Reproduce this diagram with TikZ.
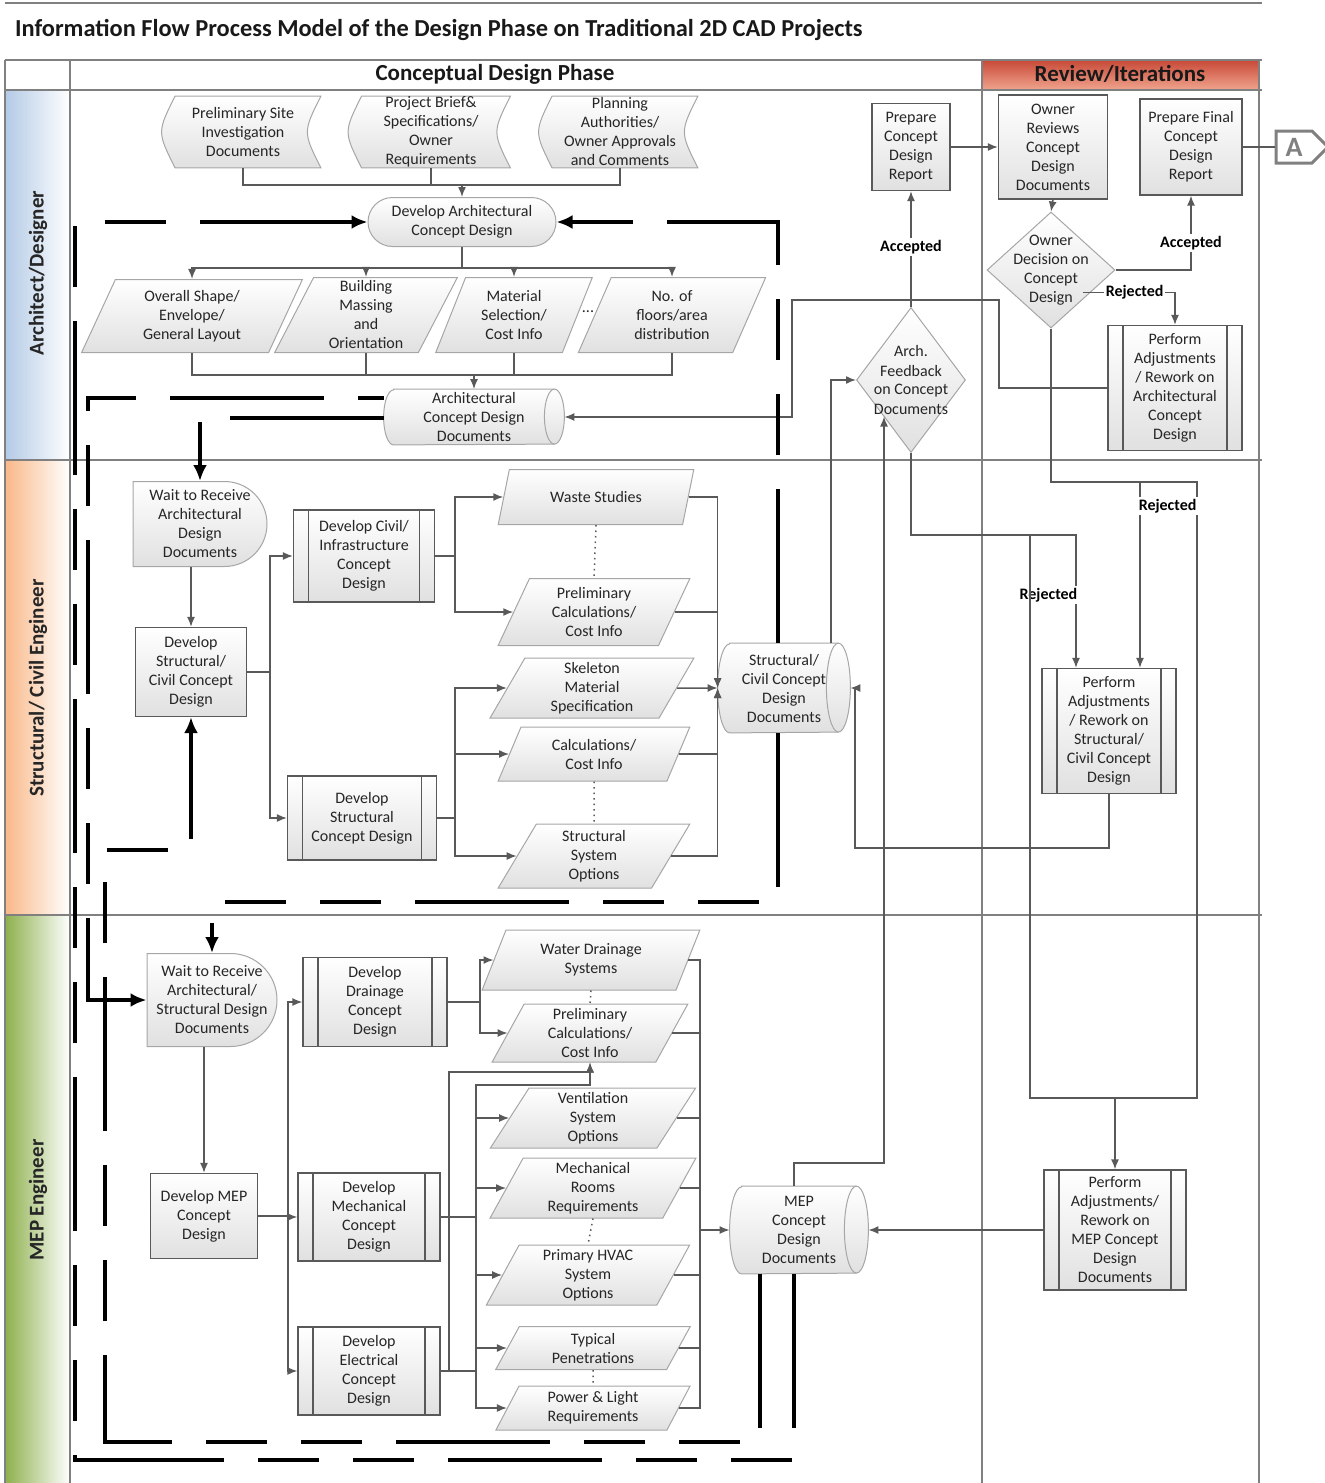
\documentclass[tikz,border=0pt]{standalone}
\usepackage{fontspec}
\setmainfont{Carlito}
\usetikzlibrary{shapes.geometric,shapes.misc,shapes.symbols,arrows.meta}

\pgfdeclarelayer{background}
\pgfsetlayers{background,main}

\definecolor{lineclr}{HTML}{595959}
\definecolor{edgeclr}{HTML}{A6A6A6}
\definecolor{laneclr}{HTML}{808080}
\definecolor{archblue}{HTML}{B4CBE6}
\definecolor{structorange}{HTML}{F9B98A}
\definecolor{mepgreen}{HTML}{8FB150}
\definecolor{revred}{HTML}{C94C3A}
\definecolor{revlight}{HTML}{F0A48E}

\tikzset{
  every node/.style={font=\fontsize{8}{9.5}\selectfont, text=black!85, align=center},
  softfill/.style={top color=white, bottom color=black!12},
  ctext/.style={label={center:{#1}}},
  proc/.style={rectangle, draw=lineclr, line width=0.6pt, softfill, inner sep=1pt},
  subproc/.style={proc, path picture={
      \draw[lineclr, line width=0.6pt]
        ([xshift=7.5pt]path picture bounding box.north west) -- ([xshift=7.5pt]path picture bounding box.south west)
        ([xshift=-7.5pt]path picture bounding box.north east) -- ([xshift=-7.5pt]path picture bounding box.south east);}},
  datain/.style={trapezium, trapezium left angle=68, trapezium right angle=112,
      trapezium stretches=true, draw=edgeclr, line width=0.5pt, softfill, inner sep=1pt},
  decide/.style={diamond, draw=edgeclr, line width=0.5pt, softfill, inner sep=0pt},
  waitbox/.style={rounded rectangle, rounded rectangle left arc=none, draw=edgeclr, line width=0.5pt, softfill, inner sep=0pt},
  termbox/.style={rounded rectangle, draw=edgeclr, line width=0.5pt, softfill, inner sep=0pt},
  docbox/.style={rectangle, inner sep=0pt},
  docedge/.style={draw=edgeclr, line width=0.5pt, softfill},
  docline/.style={draw=edgeclr, line width=0.5pt},
  offpage/.style={signal, signal to=east, draw=black!50, line width=1.5pt, text=black!50,
      font=\fontsize{14}{16}\selectfont\bfseries, minimum width=26pt, minimum height=16pt, inner sep=1pt},
  link/.style={draw=lineclr, line width=0.75pt},
  flow/.style={link, -{Latex[length=5pt,width=4pt]}},
  dotline/.style={draw=lineclr, line width=0.75pt, dotted},
  fbloop/.style={draw=black, line width=2pt,
      dash pattern=on 77pt off 17pt on 30.5pt off 17pt on 30.5pt off 17pt,
      -{Latex[length=8pt,width=7pt]}},
  lbl/.style={font=\fontsize{8}{9.5}\selectfont\bfseries, text=black, fill=white, inner sep=1pt},
  laneline/.style={draw=laneclr, line width=0.75pt},
  lanelbl/.style={font=\fontsize{10.5}{12}\selectfont\bfseries, text=black!85, rotate=90},
  hdr/.style={font=\fontsize{11.5}{13}\selectfont\bfseries, text=black!90},
}

% curved-side document outline, drawn behind the node text
\newcommand{\tapedoc}[1]{%
  \begin{pgfonlayer}{background}
    \shadedraw[docedge] ([xshift=5pt]#1.north west) .. controls ([xshift=-4pt]#1.west) .. ([xshift=5pt]#1.south west)
      -- (#1.south east) .. controls ([xshift=-9pt]#1.east) .. (#1.north east) -- cycle;
  \end{pgfonlayer}}

% lying data store (cylinder), #2 = end radius, #3 = half height
\newcommand{\cylbody}[3]{%
  \begin{pgfonlayer}{background}
    \shadedraw[docedge] ([xshift=#2]#1.north west) -- ([xshift=-#2]#1.north east)
      arc[start angle=90, end angle=-90, x radius=#2, y radius=#3]
      -- ([xshift=#2]#1.south west)
      arc[start angle=270, end angle=90, x radius=#2, y radius=#3] -- cycle;
    \draw[docline] ([xshift=-#2]#1.north east) arc[start angle=90, end angle=270, x radius=#2, y radius=#3];
  \end{pgfonlayer}}

\begin{document}
\begin{tikzpicture}[x=0.5pt, y=-0.5pt]
    \useasboundingbox (0,0) rectangle (1324,1483);

    % swimlanes
    \fill[left color=archblue, right color=white] (6,90) rectangle (70,460);
    \fill[left color=structorange, right color=white] (6,460) rectangle (70,915);
    \fill[left color=mepgreen, right color=white] (6,915) rectangle (70,1483);
    \shade[top color=revred, bottom color=revlight] (983,61) rectangle (1258,90);
    \draw[laneline] (5,3) -- (1262,3);
    \foreach \y in {60,90,460,915}
        \draw[laneline] (5,\y) -- (1262,\y);
    \foreach \x in {5,70,982,1259}
        \draw[laneline] (\x,60) -- (\x,1483);

    \node[hdr, anchor=west, font=\fontsize{12.2}{14}\selectfont\bfseries] (title) at (8,30) {Information Flow Process Model of the Design Phase on Traditional 2D CAD Projects};
    \node[hdr] (phase) at (495,74) {Conceptual Design Phase};
    \node[hdr] (review) at (1120,74) {Review/Iterations};
    \node[lanelbl] (lanearch) at (38,273) {Architect/Designer};
    \node[lanelbl] (lanestruct) at (38,688) {Structural/ Civil Engineer};
    \node[lanelbl] (lanemep) at (38,1200) {MEP Engineer};

    % architect / designer
    \node[docbox, minimum width=77.5pt, minimum height=35.5pt] (sitedoc) at (243,132) {Preliminary Site\\Investigation\\Documents};
    \node[docbox, minimum width=79pt, minimum height=35.5pt] (briefdoc) at (431,132) {Project Brief\&\\Specifications/\\Owner\\Requirements};
    \node[docbox, minimum width=77.5pt, minimum height=35.5pt] (plandoc) at (620,132) {Planning\\Authorities/\\Owner Approvals\\and Comments};
    \tapedoc{sitedoc}
    \tapedoc{briefdoc}
    \tapedoc{plandoc}
    \node[termbox, minimum width=94pt, minimum height=24.5pt, ctext={Develop Architectural\\Concept Design}] (devarch) at (462,222) {};
    \node[datain, minimum width=110.5pt, minimum height=36.5pt] (shape1) at (192,316) {Overall Shape/\\Envelope/\\General Layout};
    \node[datain, minimum width=91.5pt, minimum height=37.5pt] (massing) at (366,315) {Building\\Massing\\and\\Orientation};
    \node[datain, minimum width=78.5pt, minimum height=37.5pt] (material) at (514,315) {Material\\Selection/\\Cost Info};
    \node (moreA) at (588,312) {...};
    \node[datain, minimum width=94pt, minimum height=37.5pt] (floors) at (672,315) {No. of\\floors/area\\distribution};
    \node[docbox, minimum width=90pt, minimum height=27.5pt, ctext={Architectural\\Concept Design\\Documents}] (archdocs) at (474,417) {};
    \cylbody{archdocs}{5pt}{13.75pt}
    \node[proc, minimum width=39pt, minimum height=43.5pt] (prepcdr) at (911,147) {Prepare\\Concept\\Design\\Report};
    \node[decide, minimum width=54.5pt, minimum height=72.5pt, ctext={Arch.\\Feedback\\on Concept\\Documents}] (archfb) at (911,380) {};
    \node[proc, minimum width=54.5pt, minimum height=52pt] (ownrev) at (1053,147) {Owner\\Reviews\\Concept\\Design\\Documents};
    \node[decide, minimum width=64pt, minimum height=58pt, ctext={Owner\\Decision on\\Concept\\Design}] (owndec) at (1051,270) {};
    \node[proc, minimum width=51pt, minimum height=48pt] (prepfin) at (1191,147) {Prepare Final\\Concept\\Design\\Report};
    \node[subproc, minimum width=67pt, minimum height=62.5pt] (adjarch) at (1175,388) {Perform\\Adjustments\\/ Rework on\\Architectural\\Concept\\Design};
    \node[offpage] (offA) at (1294,147) {A};

    % structural / civil engineer
    \node[waitbox, minimum width=67pt, minimum height=42.5pt, ctext={Wait to Receive\\Architectural\\Design\\Documents}] (waitarch) at (200,524) {};
    \node[proc, minimum width=55.5pt, minimum height=44.5pt] (devsc) at (191,672) {Develop\\Structural/\\Civil Concept\\Design};
    \node[subproc, minimum width=70.5pt, minimum height=46pt] (devcivil) at (364,556) {Develop Civil/\\Infrastructure\\Concept\\Design};
    \node[subproc, minimum width=74.5pt, minimum height=42pt] (devstruct) at (362,818) {Develop\\Structural\\Concept Design};
    \node[datain, minimum width=98pt, minimum height=27.5pt] (waste) at (596,497) {Waste Studies};
    \node[datain, minimum width=96pt, minimum height=33.5pt] (prelimA) at (594,612) {Preliminary\\Calculations/\\Cost Info};
    \node[datain, minimum width=102pt, minimum height=30pt] (skeleton) at (592,688) {Skeleton\\Material\\Specification};
    \node[datain, minimum width=96pt, minimum height=27pt] (calc) at (594,754) {Calculations/\\Cost Info};
    \node[datain, minimum width=96pt, minimum height=32pt] (sysopt) at (594,856) {Structural\\System\\Options};
    \node[docbox, minimum width=66pt, minimum height=44.5pt, ctext={Structural/\\Civil Concept\\Design\\Documents}] (scdocs) at (784,688) {};
    \cylbody{scdocs}{6pt}{22.25pt}
    \node[subproc, minimum width=67pt, minimum height=62.5pt] (adjstruct) at (1109,731) {Perform\\Adjustments\\/ Rework on\\Structural/\\Civil Concept\\Design};

    % MEP engineer
    \node[waitbox, minimum width=65pt, minimum height=46.5pt, ctext={Wait to Receive\\Architectural/\\Structural Design\\Documents}] (waitmep) at (212,1000) {};
    \node[proc, minimum width=53.5pt, minimum height=42.5pt] (devmep) at (204,1216) {Develop MEP\\Concept\\Design};
    \node[subproc, minimum width=72pt, minimum height=44.5pt] (devdrain) at (375,1002) {Develop\\Drainage\\Concept\\Design};
    \node[subproc, minimum width=71pt, minimum height=44pt] (devmech) at (369,1217) {Develop\\Mechanical\\Concept\\Design};
    \node[subproc, minimum width=71pt, minimum height=44pt] (develec) at (369,1371) {Develop\\Electrical\\Concept\\Design};
    \node[datain, minimum width=109pt, minimum height=30pt] (water) at (591,960) {Water Drainage\\Systems};
    \node[datain, minimum width=98pt, minimum height=29pt] (prelimB) at (590,1033) {Preliminary\\Calculations/\\Cost Info};
    \node[datain, minimum width=103pt, minimum height=30pt] (vent) at (593,1118) {Ventilation\\System\\Options};
    \node[datain, minimum width=103pt, minimum height=30pt] (mechroom) at (593,1188) {Mechanical\\Rooms\\Requirements};
    \node[datain, minimum width=102pt, minimum height=30pt] (hvac) at (588,1275) {Primary HVAC\\System\\Options};
    \node[datain, minimum width=97.5pt, minimum height=21.5pt] (penet) at (593,1348) {Typical\\Penetrations};
    \node[datain, minimum width=97.5pt, minimum height=22pt] (power) at (593,1408) {Power \& Light\\Requirements};
    \node[docbox, minimum width=69pt, minimum height=43.5pt, ctext={MEP\\Concept\\Design\\Documents}] (mepdocs) at (799,1230) {};
    \cylbody{mepdocs}{6pt}{21.75pt}
    \node[subproc, minimum width=71pt, minimum height=60pt] (adjmep) at (1115,1230) {Perform\\Adjustments/\\Rework on\\MEP Concept\\Design\\Documents};

    % bend points
    \coordinate (topbus) at (462,185);
    \coordinate (fanA) at (462,268);
    \coordinate (fanB) at (474,375);
    \coordinate (rwA) at (999,300);
    \coordinate (rwB) at (792,300);
    \coordinate (rjA) at (1197,482);
    \coordinate (rjS) at (1140,482);
    \coordinate (rjM) at (1115,1098);
    \coordinate (fbrej) at (1076,535);
    \coordinate (fbmep) at (1030,535);
    \coordinate (rsA) at (855,848);
    \coordinate (mepup) at (884,1163);
    \coordinate (scbus) at (270,672);
    \coordinate (cvbus) at (455,556);
    \coordinate (stbus) at (455,818);
    \coordinate (mpbus) at (288,1216);
    \coordinate (drbus) at (480,1002);
    \coordinate (mcbus) at (476,1217);
    \coordinate (mctop) at (476,1085);
    \coordinate (eltop) at (449,1072);
    \coordinate (mpout) at (700,1230);
    \coordinate (outerL) at (75,1460);
    \coordinate (innerL) at (105,1442);
    \coordinate (innerT) at (105,850);
    \coordinate (jL) at (88,1000);
    \coordinate (sbot) at (212,902);

    % architect flows
    \foreach \n in {sitedoc,briefdoc,plandoc}
        \draw[link] (\n.south) |- (topbus);
    \draw[link] (sitedoc.south |- topbus) -- (plandoc.south |- topbus);
    \draw[flow] (topbus) -- (devarch.north);
    \draw[link] (devarch.south) -- (fanA);
    \foreach \n in {shape1,massing,material,floors}
        \draw[flow] (fanA) -| (\n.north);
    \foreach \n in {shape1,massing,material,floors}
        \draw[link] (\n.south) |- (fanB);
    \draw[flow] (fanB) -- (archdocs.north);
    \draw[flow] (archfb.north) -- node[lbl, pos=0.52] {Accepted} (prepcdr.south);
    \draw[flow] (prepcdr.east) -- (ownrev.west);
    \draw[flow] (ownrev.south) -- (owndec.north);
    \draw[flow] (owndec.east) -| node[lbl, pos=0.68] {Accepted} (prepfin.south);
    \draw[flow] ([yshift=3.5pt]owndec.south east) -| node[lbl, pos=0.28] {Rejected} (adjarch.north);
    \draw[link] (prepfin.east) -- (offA.west);
    \draw[flow] (adjarch.west) -| (rwA) -- (rwB) |- (archdocs.east);

    % rejections
    \draw[link] (owndec.south) |- (rjA) |- (rjM);
    \draw[flow] (rjM) -- (adjmep.north);
    \draw[flow] (rjS) -- node[lbl, pos=0.13, anchor=west, xshift=-2pt] {Rejected} (rjS |- adjstruct.north);
    \draw[flow] (archfb.south) |- (fbrej) -- node[lbl, pos=0.45, anchor=east, xshift=2pt] {Rejected} (fbrej |- adjstruct.north);
    \draw[link] (fbmep) |- (rjM);
    \draw[flow] (adjstruct.south) |- (rsA) |- (scdocs.east);
    \draw[flow] (adjmep.west) -- (mepdocs.east);
    \draw[flow] ([xshift=23.5pt]scdocs.north) |- (archfb.west);
    \draw[flow] ([xshift=-2.5pt]mepdocs.north) |- (mepup) -- (mepup |- archfb.south west);

    % structural flows
    \draw[flow] (devsc.north |- waitarch.south) -- (devsc.north);
    \draw[link] (devsc.east) -- (scbus);
    \draw[flow] (scbus) |- (devcivil.west);
    \draw[flow] (scbus) |- (devstruct.west);
    \draw[link] (devcivil.east) -- (cvbus);
    \foreach \n in {waste,prelimA}
        \draw[flow] (cvbus) |- (\n.west);
    \draw[link] (devstruct.east) -- (stbus);
    \foreach \n in {skeleton,calc,sysopt}
        \draw[flow] (stbus) |- (\n.west);
    \foreach \n in {waste,prelimA,calc,sysopt}
        \draw[flow] (\n.east) -| (scdocs.west);
    \draw[flow] (skeleton.east) -- (scdocs.west);
    \draw[dotline] (waste.south) -- (prelimA.north);
    \draw[dotline] (calc.south) -- (sysopt.north);

    % MEP flows
    \draw[flow] (devmep.north |- waitmep.south) -- (devmep.north);
    \draw[link] (devmep.east) -- (mpbus);
    \foreach \n in {devdrain,devmech,develec}
        \draw[flow] (mpbus) |- (\n.west);
    \draw[link] (devdrain.east) -- (drbus);
    \foreach \n in {water,prelimB}
        \draw[flow] (drbus) |- (\n.west);
    \draw[link] (devmech.east) -- (mcbus);
    \draw[link] (develec.east) -- (mcbus |- develec.east);
    \foreach \n in {vent,mechroom,hvac,penet,power}
        \draw[flow] (mcbus) |- (\n.west);
    \draw[flow] (mcbus) -- (mctop) -| (prelimB.south);
    \draw[flow] (develec.east) -| (eltop) -| (prelimB.south);
    \foreach \n in {water,prelimB,vent,mechroom,hvac,penet,power}
        \draw[link] (\n.east) -| (mpout);
    \draw[flow] (mpout) -- (mepdocs.west);
    \draw[dotline] (water.south) -- (prelimB.north);
    \draw[dotline] (mechroom.south) -- (hvac.north);
    \draw[dotline] (penet.south) -- (power.north);

    % feedback loops
    \draw[fbloop] ([xshift=-2.5pt]mepdocs.south) |- (outerL) |- (devarch.west);
    \draw[fbloop] ([xshift=-19.5pt]mepdocs.south) |- (innerL) -- (innerT) -| (devsc.south);
    \draw[fbloop] ([yshift=-0.5pt]archdocs.west) -| (waitarch.north);
    \draw[fbloop, dash phase=159pt] ([yshift=9.5pt]archdocs.west) -| (jL) -- (waitmep.west);
    \draw[fbloop] ([xshift=-3pt]scdocs.north) |- (devarch.east);
    \draw[fbloop] ([xshift=-3pt]scdocs.south) |- (sbot) -- (waitmep.north);
\end{tikzpicture}
\end{document}
